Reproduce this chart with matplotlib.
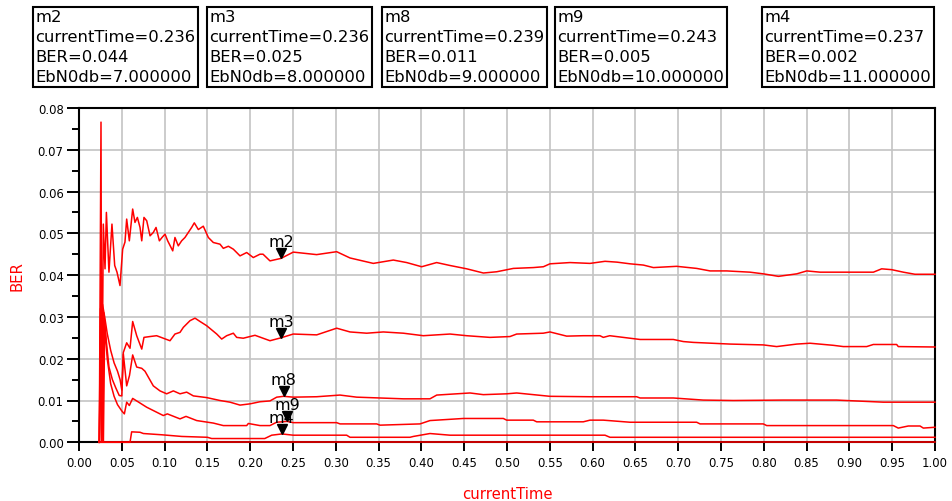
import matplotlib
matplotlib.use("Agg")
import matplotlib.pyplot as plt
import matplotlib.transforms as mtransforms

# BER vs simulation time, one trace per Eb/N0 setting
ber_7db = [(0.0237, 0.0), (0.0257, 0.0766), (0.0266, 0.0), (0.0284, 0.0522), (0.0304, 0.0415),
           (0.0320, 0.0550), (0.0350, 0.0407), (0.0385, 0.0522), (0.0417, 0.0423), (0.0444, 0.0407),
           (0.0479, 0.0375), (0.0510, 0.0462), (0.0537, 0.0479), (0.0557, 0.0534), (0.0588, 0.0482),
           (0.0627, 0.0558), (0.0654, 0.0526), (0.0682, 0.0538), (0.0713, 0.0514), (0.0733, 0.0482),
           (0.0759, 0.0538), (0.0791, 0.0530), (0.0830, 0.0494), (0.0868, 0.0502), (0.0900, 0.0514),
           (0.0939, 0.0482), (0.0970, 0.0490), (0.1005, 0.0498), (0.1036, 0.0482), (0.1095, 0.0458),
           (0.1121, 0.0490), (0.1160, 0.0470), (0.1199, 0.0482), (0.1238, 0.0490), (0.1277, 0.0502),
           (0.1316, 0.0514), (0.1347, 0.0525), (0.1394, 0.0509), (0.1452, 0.0517), (0.1511, 0.0490),
           (0.1569, 0.0478), (0.1647, 0.0474), (0.1686, 0.0464), (0.1745, 0.0469), (0.1803, 0.0462),
           (0.1881, 0.0446), (0.1959, 0.0454), (0.2036, 0.0442), (0.2114, 0.0450), (0.2150, 0.0450),
           (0.2231, 0.0434), (0.2360, 0.0440), (0.2503, 0.0455), (0.2776, 0.0449), (0.3010, 0.0456),
           (0.3166, 0.0441), (0.3438, 0.0428), (0.3672, 0.0436), (0.3828, 0.0430), (0.4003, 0.0420),
           (0.4178, 0.0430), (0.4334, 0.0423), (0.4530, 0.0415), (0.4724, 0.0405), (0.4880, 0.0408),
           (0.5074, 0.0416), (0.5308, 0.0418), (0.5425, 0.0420), (0.5502, 0.0427), (0.5736, 0.0430),
           (0.5970, 0.0428), (0.6145, 0.0433), (0.6285, 0.0431), (0.6437, 0.0427), (0.6593, 0.0424),
           (0.6710, 0.0418), (0.6982, 0.0421), (0.7216, 0.0416), (0.7372, 0.0410), (0.7567, 0.0410),
           (0.7839, 0.0407), (0.7995, 0.0403), (0.8171, 0.0397), (0.8385, 0.0403), (0.8502, 0.0410),
           (0.8657, 0.0407), (0.9280, 0.0407), (0.9377, 0.0415), (0.9494, 0.0413), (0.9630, 0.0407),
           (0.9766, 0.0402), (1.0, 0.0402)]

ber_8db = [(0.0237, 0.0), (0.0250, 0.0320), (0.0262, 0.0), (0.0275, 0.0330), (0.0300, 0.0300),
           (0.0330, 0.0260), (0.0370, 0.0220), (0.0410, 0.0190), (0.0450, 0.0170), (0.0480, 0.0150),
           (0.0500, 0.0125), (0.0518, 0.0215), (0.0557, 0.0238), (0.0596, 0.0225), (0.0627, 0.0289),
           (0.0674, 0.0255), (0.0733, 0.0223), (0.0759, 0.0251), (0.0829, 0.0253), (0.0907, 0.0255),
           (0.0985, 0.0249), (0.1063, 0.0243), (0.1121, 0.0259), (0.1180, 0.0263), (0.1219, 0.0275),
           (0.1297, 0.0291), (0.1355, 0.0297), (0.1414, 0.0289), (0.1491, 0.0279), (0.1609, 0.0259),
           (0.1667, 0.0247), (0.1725, 0.0255), (0.1803, 0.0261), (0.1842, 0.0251), (0.1919, 0.0249),
           (0.2056, 0.0256), (0.2231, 0.0243), (0.2360, 0.0250), (0.2503, 0.0259), (0.2777, 0.0257),
           (0.3010, 0.0273), (0.3166, 0.0264), (0.3361, 0.0261), (0.3555, 0.0264), (0.3789, 0.0261),
           (0.4022, 0.0255), (0.4334, 0.0259), (0.4529, 0.0255), (0.4801, 0.0251), (0.5035, 0.0253),
           (0.5113, 0.0259), (0.5424, 0.0261), (0.5502, 0.0264), (0.5697, 0.0254), (0.5891, 0.0255),
           (0.6086, 0.0255), (0.6125, 0.0251), (0.6200, 0.0255), (0.6554, 0.0246), (0.6943, 0.0246),
           (0.7060, 0.0241), (0.7177, 0.0239), (0.7605, 0.0235), (0.7994, 0.0233), (0.8150, 0.0229),
           (0.8385, 0.0235), (0.8540, 0.0237), (0.8812, 0.0232), (0.8929, 0.0229), (0.9202, 0.0229),
           (0.9279, 0.0234), (0.9552, 0.0234), (0.9571, 0.0229), (1.0, 0.0228)]

ber_9db = [(0.0237, 0.0), (0.0255, 0.0330), (0.0280, 0.0), (0.0290, 0.0310), (0.0320, 0.0240),
           (0.0350, 0.0180), (0.0390, 0.0150), (0.0430, 0.0130), (0.0470, 0.0112), (0.0500, 0.0111),
           (0.0518, 0.0211), (0.0557, 0.0135), (0.0590, 0.0160), (0.0627, 0.0209), (0.0674, 0.0180),
           (0.0733, 0.0177), (0.0771, 0.0170), (0.0868, 0.0135), (0.0946, 0.0123), (0.1024, 0.0116),
           (0.1102, 0.0123), (0.1180, 0.0116), (0.1258, 0.0120), (0.1336, 0.0111), (0.1491, 0.0107),
           (0.1647, 0.0100), (0.1764, 0.0096), (0.1881, 0.0089), (0.1998, 0.0092), (0.2114, 0.0097),
           (0.2231, 0.0099), (0.2310, 0.0108), (0.2390, 0.0110), (0.2503, 0.0108), (0.2777, 0.0109),
           (0.3049, 0.0113), (0.3244, 0.0108), (0.3789, 0.0104), (0.4100, 0.0104), (0.4179, 0.0113),
           (0.4568, 0.0118), (0.4723, 0.0114), (0.4996, 0.0116), (0.5113, 0.0118), (0.5502, 0.0110),
           (0.5970, 0.0109), (0.6515, 0.0109), (0.6554, 0.0106), (0.6943, 0.0106), (0.7293, 0.0101),
           (0.7644, 0.0100), (0.8228, 0.0101), (0.8851, 0.0101), (0.9396, 0.0096), (1.0, 0.0096)]

ber_10db = [(0.0237, 0.0), (0.0260, 0.0300), (0.0285, 0.0), (0.0300, 0.0280), (0.0330, 0.0200),
            (0.0370, 0.0140), (0.0410, 0.0110), (0.0450, 0.0090), (0.0500, 0.0075), (0.0530, 0.0068),
            (0.0557, 0.0096), (0.0588, 0.0088), (0.0627, 0.0105), (0.0790, 0.0084), (0.0985, 0.0064),
            (0.1032, 0.0068), (0.1180, 0.0056), (0.1250, 0.0062), (0.1375, 0.0052), (0.1569, 0.0046),
            (0.1686, 0.0040), (0.1959, 0.0040), (0.1978, 0.0045), (0.2114, 0.0040), (0.2231, 0.0040),
            (0.2309, 0.0048), (0.2430, 0.0050), (0.2503, 0.0047), (0.3010, 0.0047), (0.3049, 0.0044),
            (0.3478, 0.0044), (0.3516, 0.0041), (0.3984, 0.0044), (0.4100, 0.0052), (0.4490, 0.0057),
            (0.4957, 0.0057), (0.4996, 0.0053), (0.5307, 0.0053), (0.5347, 0.0049), (0.5891, 0.0049),
            (0.5970, 0.0053), (0.6125, 0.0053), (0.6437, 0.0048), (0.7216, 0.0048), (0.7255, 0.0044),
            (0.7994, 0.0044), (0.8034, 0.0040), (0.9513, 0.0040), (0.9571, 0.0034), (0.9688, 0.0039),
            (0.9825, 0.0039), (0.9864, 0.0034), (1.0, 0.0036)]

ber_11db = [(0.0237, 0.0), (0.0596, 0.0), (0.0615, 0.0025), (0.0713, 0.0024), (0.0752, 0.0021),
            (0.0966, 0.0018), (0.1200, 0.0014), (0.1500, 0.0012), (0.1550, 0.0009), (0.2170, 0.0009),
            (0.2251, 0.0017), (0.2370, 0.0020), (0.2503, 0.0017), (0.3127, 0.0017), (0.3166, 0.0012),
            (0.3867, 0.0012), (0.3906, 0.0014), (0.4100, 0.0021), (0.4334, 0.0017), (0.6145, 0.0017),
            (0.6203, 0.0012), (1.0, 0.0012)]

ber_12db = [(0.0237, 0.0), (1.0, 0.0)]

traces = [ber_7db, ber_8db, ber_9db, ber_10db, ber_11db, ber_12db]

# marker readouts
marker_names = ["m2", "m3", "m8", "m9", "m4"]
marker_time = [0.236, 0.236, 0.239, 0.243, 0.237]
marker_ber = [0.044, 0.025, 0.011, 0.005, 0.002]
marker_ebn0 = [7, 8, 9, 10, 11]
box_left = [33, 207, 382, 555, 762]

W, H = 952, 502
fig = plt.figure(figsize=(W / 100, H / 100), dpi=100)
ax = fig.add_axes([79 / W, 1 - 443.3 / H, 856 / W, 334.4 / H])

for tr in traces:
    t = [p[0] for p in tr]
    b = [p[1] for p in tr]
    ax.plot(t, b, color="red", lw=1.1, zorder=3, clip_on=False)

ax.set_xlim(0, 1)
ax.set_ylim(0, 0.08)
ax.set_xticks([i * 0.05 for i in range(21)])
ax.set_xticklabels(["%.2f" % (i * 0.05) for i in range(21)])
ax.set_yticks([i * 0.01 for i in range(9)])
ax.set_yticklabels(["%.2f" % (i * 0.01) for i in range(9)])
ax.set_yticks([0.005 + i * 0.01 for i in range(8)], minor=True)
ax.grid(True, color="#c4c4c4", lw=1.2, zorder=1)
ax.set_axisbelow(True)
ax.tick_params(axis="both", which="major", direction="out", width=1.4, labelsize=8.4, color="black")
ax.tick_params(axis="y", which="major", length=9, pad=2)
ax.tick_params(axis="x", which="major", length=6.5, pad=3.5)
ax.tick_params(axis="y", which="minor", length=5, width=1.4)
for sp in ax.spines.values():
    sp.set_linewidth(1.5)
    sp.set_color("black")

ax.set_xlabel("currentTime", color="red", fontsize=10.7, labelpad=12)
ax.set_ylabel("BER", color="red", fontsize=10.7)
ax.yaxis.set_label_coords(-0.064, 0.5)

# marker triangles with labels, tip sitting on the trace
tri_off = mtransforms.offset_copy(ax.transData, fig=fig, x=0, y=5, units="dots")
for name, t, b in zip(marker_names, marker_time, marker_ber):
    ax.plot([t], [b], marker="v", ms=7.5, color="black", transform=tri_off, zorder=5, clip_on=False)
    ax.annotate(name, (t, b), xytext=(0, 9), textcoords="offset pixels",
                ha="center", va="bottom", fontsize=11.5, color="black", zorder=4)

# readout boxes across the top
for name, t, b, eb, x0 in zip(marker_names, marker_time, marker_ber, marker_ebn0, box_left):
    txt = "%s\ncurrentTime=%.3f\nBER=%.3f\nEbN0db=%.6f" % (name, t, b, eb)
    fig.text((x0 + 2.5) / W, 1 - 10 / H, txt, ha="left", va="top", fontsize=11.8,
             linespacing=1.42,
             bbox=dict(boxstyle="square,pad=0.15", fc="white", ec="black", lw=1.5))

fig.savefig("out.png", dpi=100)
